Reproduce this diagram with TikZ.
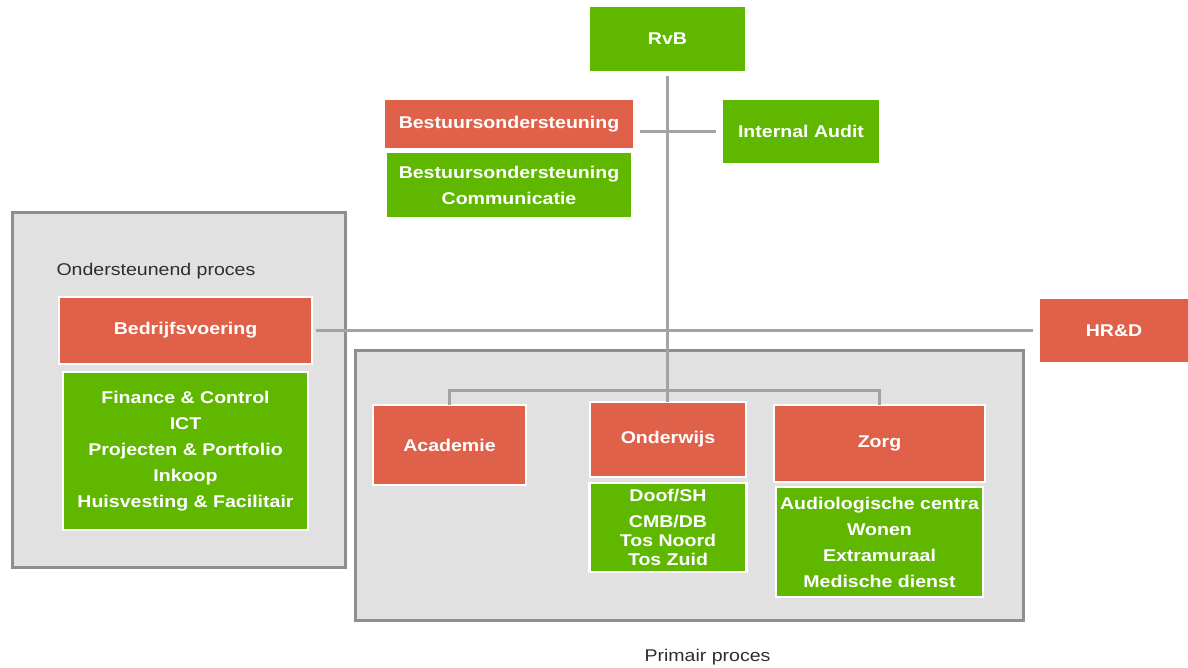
\documentclass[tikz,border=0pt]{standalone}
\usepackage{fontspec}
\newfontfamily\orgfont[FakeStretch=1.15]{Liberation Sans}
\usetikzlibrary{positioning}
\definecolor{orggreen}{HTML}{5FB700}
\definecolor{orgred}{HTML}{E0614A}
\definecolor{lanegray}{HTML}{E1E1E1}
\definecolor{lanerule}{HTML}{8E8E8E}
\definecolor{linkgray}{HTML}{A3A3A3}
\definecolor{labelgray}{HTML}{2E2E2E}

\begin{document}
\begin{tikzpicture}[
    x=1pt, y=1pt,
    every node/.style={font=\orgfont\fontsize{17}{26}\selectfont},
    unitbox/.style={
        draw=white, line width=2.5pt, text=white, inner sep=0pt, outer sep=0pt,
        font=\orgfont\bfseries\fontsize{17}{26}\selectfont, align=center
    },
    redbox/.style={unitbox, fill=orgred},
    greenbox/.style={unitbox, fill=orggreen},
    lanebox/.style={draw=lanerule, fill=lanegray, line width=3pt, inner sep=0pt},
    link/.style={draw=linkgray, line width=3pt},
]
\useasboundingbox (0,0) rectangle (1188,-668);

% === Process lanes ===
\node[lanebox, minimum width=333pt, minimum height=354pt] (support) at (178.5,-390) {};
\node[lanebox, minimum width=668pt, minimum height=270pt] (primary) at (689,-485) {};

% === Top: board ===
\node[greenbox, minimum width=157pt, minimum height=66pt] (rvb) at (667.5,-39) {RvB};
\node[redbox, minimum width=250pt, minimum height=50pt] (bestuur) at (509,-124) {Bestuursondersteuning};
\node[greenbox, minimum width=246pt, minimum height=66pt, below=3pt of bestuur] (bestuurlist)
    {Bestuursondersteuning\\Communicatie};
\node[greenbox, minimum width=158pt, minimum height=65pt] (audit) at (801,-131.5) {Internal Audit};

% === Left: support ===
\node[anchor=west, text=labelgray] (supportlabel) at (53,-271) {Ondersteunend proces};
\node[redbox, minimum width=253pt, minimum height=67pt] (bedrijf) at (185.5,-330.5) {Bedrijfsvoering};
\node[greenbox, minimum width=245pt, minimum height=158pt, below=8pt of bedrijf] (bedrijflist)
    {Finance \& Control\\ICT\\Projecten \& Portfolio\\Inkoop\\Huisvesting \& Facilitair};

% === Right: HR ===
\node[redbox, minimum width=150pt, minimum height=65pt] (hrd) at (1114,-330.5) {HR\&D};

% === Primary process ===
\node[redbox, minimum width=153pt, minimum height=80pt] (academie) at (449.5,-445) {Academie};
\node[redbox, minimum width=156pt, minimum height=75pt] (onderwijs) at (668,-439.5) {Onderwijs};
\node[greenbox, minimum width=157pt, minimum height=89pt, below=6pt of onderwijs] (onderwijslist)
    {Doof/SH\\CMB/DB\\[-7pt]Tos Noord\\[-7pt]Tos Zuid};
\node[redbox, minimum width=211pt, minimum height=77pt] (zorg) at (879.5,-443.5) {Zorg};
\node[greenbox, minimum width=207pt, minimum height=110pt, below=5pt of zorg] (zorglist)
    {Audiologische centra\\Wonen\\Extramuraal\\Medische dienst};
\node[text=labelgray] (primarylabel) at (707.5,-657) {Primair proces};

% Connectors
\draw[link, shorten <=4pt] (rvb.south) -- (rvb.south |- onderwijs.north);
\draw[link, shorten <=6pt, shorten >=6pt] (bestuur.east |- audit.west) -- (audit.west);
\draw[link, shorten <=4pt, shorten >=6pt] (bedrijf.east) -- (hrd.west);
\draw[link] (academie.north) -- ++(0,15) -| (zorg.north);

\end{tikzpicture}
\end{document}
